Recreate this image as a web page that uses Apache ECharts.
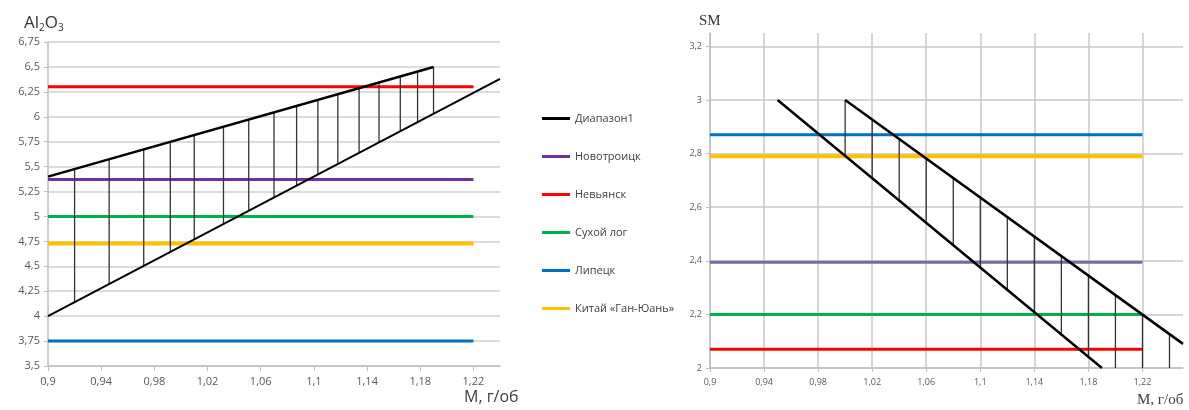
<!DOCTYPE html>
<html>
<head>
<meta charset="utf-8">
<script src="https://cdn.jsdelivr.net/npm/echarts@6/dist/echarts.min.js"></script>
<style>
  html, body { margin: 0; padding: 0; background: #fff; }
  #chart { width: 1189px; height: 410px; }
</style>
</head>
<body>
<div id="chart"></div>
<script>
// ---- Al2O3 panel (left) ----
const alUpperX = [0.9, 1.19];
const alUpperY = [5.4, 6.5];
const alLowerX = [0.9, 1.24];
const alLowerY = [4.0, 6.38];
const alHatchX   = [0.92, 0.946, 0.972, 0.992, 1.01, 1.032, 1.051, 1.07, 1.087, 1.103, 1.118, 1.134, 1.149, 1.165, 1.178, 1.19];
const alHatchTop = [5.48, 5.57, 5.67, 5.75, 5.82, 5.90, 5.97, 6.04, 6.11, 6.17, 6.23, 6.29, 6.34, 6.40, 6.45, 6.50];
const alHatchBot = [4.14, 4.32, 4.50, 4.65, 4.77, 4.92, 5.06, 5.19, 5.31, 5.42, 5.53, 5.64, 5.74, 5.86, 5.95, 6.03];

// ---- SM panel (right) ----
const smLeftX  = [0.95, 1.19];
const smLeftY  = [3.0, 2.0];
const smRightX = [1.0, 1.25];
const smRightY = [3.0, 2.09];
const smHatchX   = [1.0, 1.02, 1.04, 1.06, 1.08, 1.10, 1.12, 1.14, 1.16, 1.18, 1.20, 1.22, 1.24];
const smHatchTop = [3.0, 2.93, 2.85, 2.78, 2.71, 2.64, 2.56, 2.49, 2.42, 2.35, 2.27, 2.20, 2.13];
const smHatchBot = [2.79, 2.71, 2.62, 2.54, 2.46, 2.37, 2.29, 2.21, 2.12, 2.04, 2.0, 2.0, 2.0];

// ---- plants (horizontal levels, drawn from 0.9 to 1.22) ----
const plants   = ['Новотроицк', 'Невьянск', 'Сухой лог', 'Липецк', 'Китай «Ган-Юань»'];
const colors   = ['#7030A0', '#FF0000', '#00B050', '#0070C0', '#FFC000'];
const smColors = ['#7B6A9E', '#FF0000', '#00B050', '#0070C0', '#FFC000'];
const alLevels = [5.37, 6.30, 5.0, 3.75, 4.73];
const smLevels = [2.395, 2.07, 2.2, 2.87, 2.79];
const levelX   = [0.9, 1.22];
const rangeName = 'Диапазон1';

const fmt = v => String(+v.toFixed(2)).replace('.', ',');
const pairs = (xs, ys) => xs.map((x, i) => [x, ys[i]]);
const hatch = (xs, top, bot) => {
  const d = [];
  xs.forEach((x, i) => { d.push([x, top[i]], [x, bot[i]], [x, '-']); });
  return d;
};

const sans = '"Open Sans", "DejaVu Sans", sans-serif';
const serif = '"Liberation Serif", "DejaVu Serif", serif';

const series = [];
// black range, left panel
series.push({ name: rangeName, type: 'line', xAxisIndex: 0, yAxisIndex: 0, symbol: 'none',
  data: pairs(alUpperX, alUpperY), lineStyle: { color: '#000', width: 2.5 }, itemStyle: { color: '#000' }, z: 5 });
series.push({ name: rangeName, type: 'line', xAxisIndex: 0, yAxisIndex: 0, symbol: 'none',
  data: pairs(alLowerX, alLowerY), lineStyle: { color: '#000', width: 2 }, itemStyle: { color: '#000' }, z: 5 });
series.push({ name: rangeName, type: 'line', xAxisIndex: 0, yAxisIndex: 0, symbol: 'none', connectNulls: false,
  data: hatch(alHatchX, alHatchTop, alHatchBot), lineStyle: { color: '#333', width: 1.3 }, itemStyle: { color: '#000' }, z: 4 });
// black range, right panel
series.push({ name: rangeName, type: 'line', xAxisIndex: 1, yAxisIndex: 1, symbol: 'none',
  data: pairs(smLeftX, smLeftY), lineStyle: { color: '#000', width: 2.5 }, itemStyle: { color: '#000' }, z: 5 });
series.push({ name: rangeName, type: 'line', xAxisIndex: 1, yAxisIndex: 1, symbol: 'none',
  data: pairs(smRightX, smRightY), lineStyle: { color: '#000', width: 2.5 }, itemStyle: { color: '#000' }, z: 5 });
series.push({ name: rangeName, type: 'line', xAxisIndex: 1, yAxisIndex: 1, symbol: 'none', connectNulls: false,
  data: hatch(smHatchX, smHatchTop, smHatchBot), lineStyle: { color: '#333', width: 1.3 }, itemStyle: { color: '#000' }, z: 4 });

plants.forEach((p, i) => {
  const w = i === 4 ? 4 : 3;
  series.push({ name: p, type: 'line', xAxisIndex: 0, yAxisIndex: 0, symbol: 'none',
    data: levelX.map(x => [x, alLevels[i]]), lineStyle: { color: colors[i], width: w }, itemStyle: { color: colors[i] }, z: 3 });
  series.push({ name: p, type: 'line', xAxisIndex: 1, yAxisIndex: 1, symbol: 'none',
    data: levelX.map(x => [x, smLevels[i]]), lineStyle: { color: smColors[i], width: w }, itemStyle: { color: colors[i] }, z: 3 });
});

const chart = echarts.init(document.getElementById('chart'), null, { renderer: 'canvas' });
chart.setOption({
  animation: false,
  backgroundColor: '#fff',
  title: [
    { text: 'Al{s|2}O{s|3}', left: 19, top: 8,
      textStyle: { fontFamily: sans, fontSize: 17, fontWeight: 'normal', color: '#333',
        rich: { s: { fontFamily: sans, fontSize: 10, color: '#333', padding: [10, 0, 0, 0] } } } },
    { text: 'M, г/об', left: 459, top: 384,
      textStyle: { fontFamily: sans, fontSize: 16, fontWeight: 'normal', color: '#404040' } },
    { text: 'SM', left: 694, top: 9,
      textStyle: { fontFamily: serif, fontSize: 15, fontWeight: 'normal', color: '#333' } },
    { text: 'M, г/об', left: 1132, top: 388,
      textStyle: { fontFamily: serif, fontSize: 15, fontWeight: 'normal', color: '#404040' } }
  ],
  legend: {
    data: [rangeName].concat(plants).map(n => ({ name: n, icon: 'rect' })),
    orient: 'vertical', left: 537, top: 108, itemGap: 27, itemWidth: 28, itemHeight: 3,
    textStyle: { fontFamily: sans, fontSize: 11, color: '#404040' }
  },
  grid: [
    { left: 48, top: 42, width: 452, height: 324 },
    { left: 710, top: 33, width: 473, height: 335 }
  ],
  xAxis: [
    { type: 'value', gridIndex: 0, min: 0.9, max: 1.24, interval: 0.04,
      axisLine: { lineStyle: { color: '#bfbfbf', width: 1.5 } },
      axisTick: { show: true, length: 5, lineStyle: { color: '#bfbfbf' } },
      axisLabel: { showMaxLabel: false, formatter: fmt, fontFamily: sans, fontSize: 11, color: '#595959', margin: 10 },
      splitLine: { show: false } },
    { type: 'value', gridIndex: 1, min: 0.9, max: 1.25, interval: 0.04,
      axisLine: { lineStyle: { color: '#bfbfbf', width: 1.5 } },
      axisTick: { show: true, length: 4, lineStyle: { color: '#bfbfbf' } },
      axisLabel: { showMaxLabel: false, formatter: fmt, fontFamily: sans, fontSize: 9, color: '#595959', margin: 10 },
      splitLine: { show: true, showMaxLine: false, lineStyle: { color: '#c8c8c8', width: 1.5 } } }
  ],
  yAxis: [
    { type: 'value', gridIndex: 0, min: 3.5, max: 6.75, interval: 0.25,
      axisLine: { show: true, lineStyle: { color: '#bfbfbf', width: 1.5 } },
      axisTick: { show: true, length: 4, lineStyle: { color: '#bfbfbf' } },
      axisLabel: { formatter: fmt, fontFamily: sans, fontSize: 11, color: '#595959', margin: 8 },
      splitLine: { show: true, lineStyle: { color: '#d0d0d0', width: 1.5 } } },
    { type: 'value', gridIndex: 1, min: 2, max: 3.25, interval: 0.2,
      axisLine: { show: true, lineStyle: { color: '#bfbfbf', width: 1.5 } },
      axisTick: { show: true, length: 4, lineStyle: { color: '#bfbfbf' } },
      axisLabel: { showMaxLabel: false, formatter: fmt, fontFamily: sans, fontSize: 9, color: '#595959', margin: 8 },
      splitLine: { show: true, showMaxLine: false, lineStyle: { color: '#c8c8c8', width: 1.5 } } }
  ],
  series: series
});
</script>
</body>
</html>
